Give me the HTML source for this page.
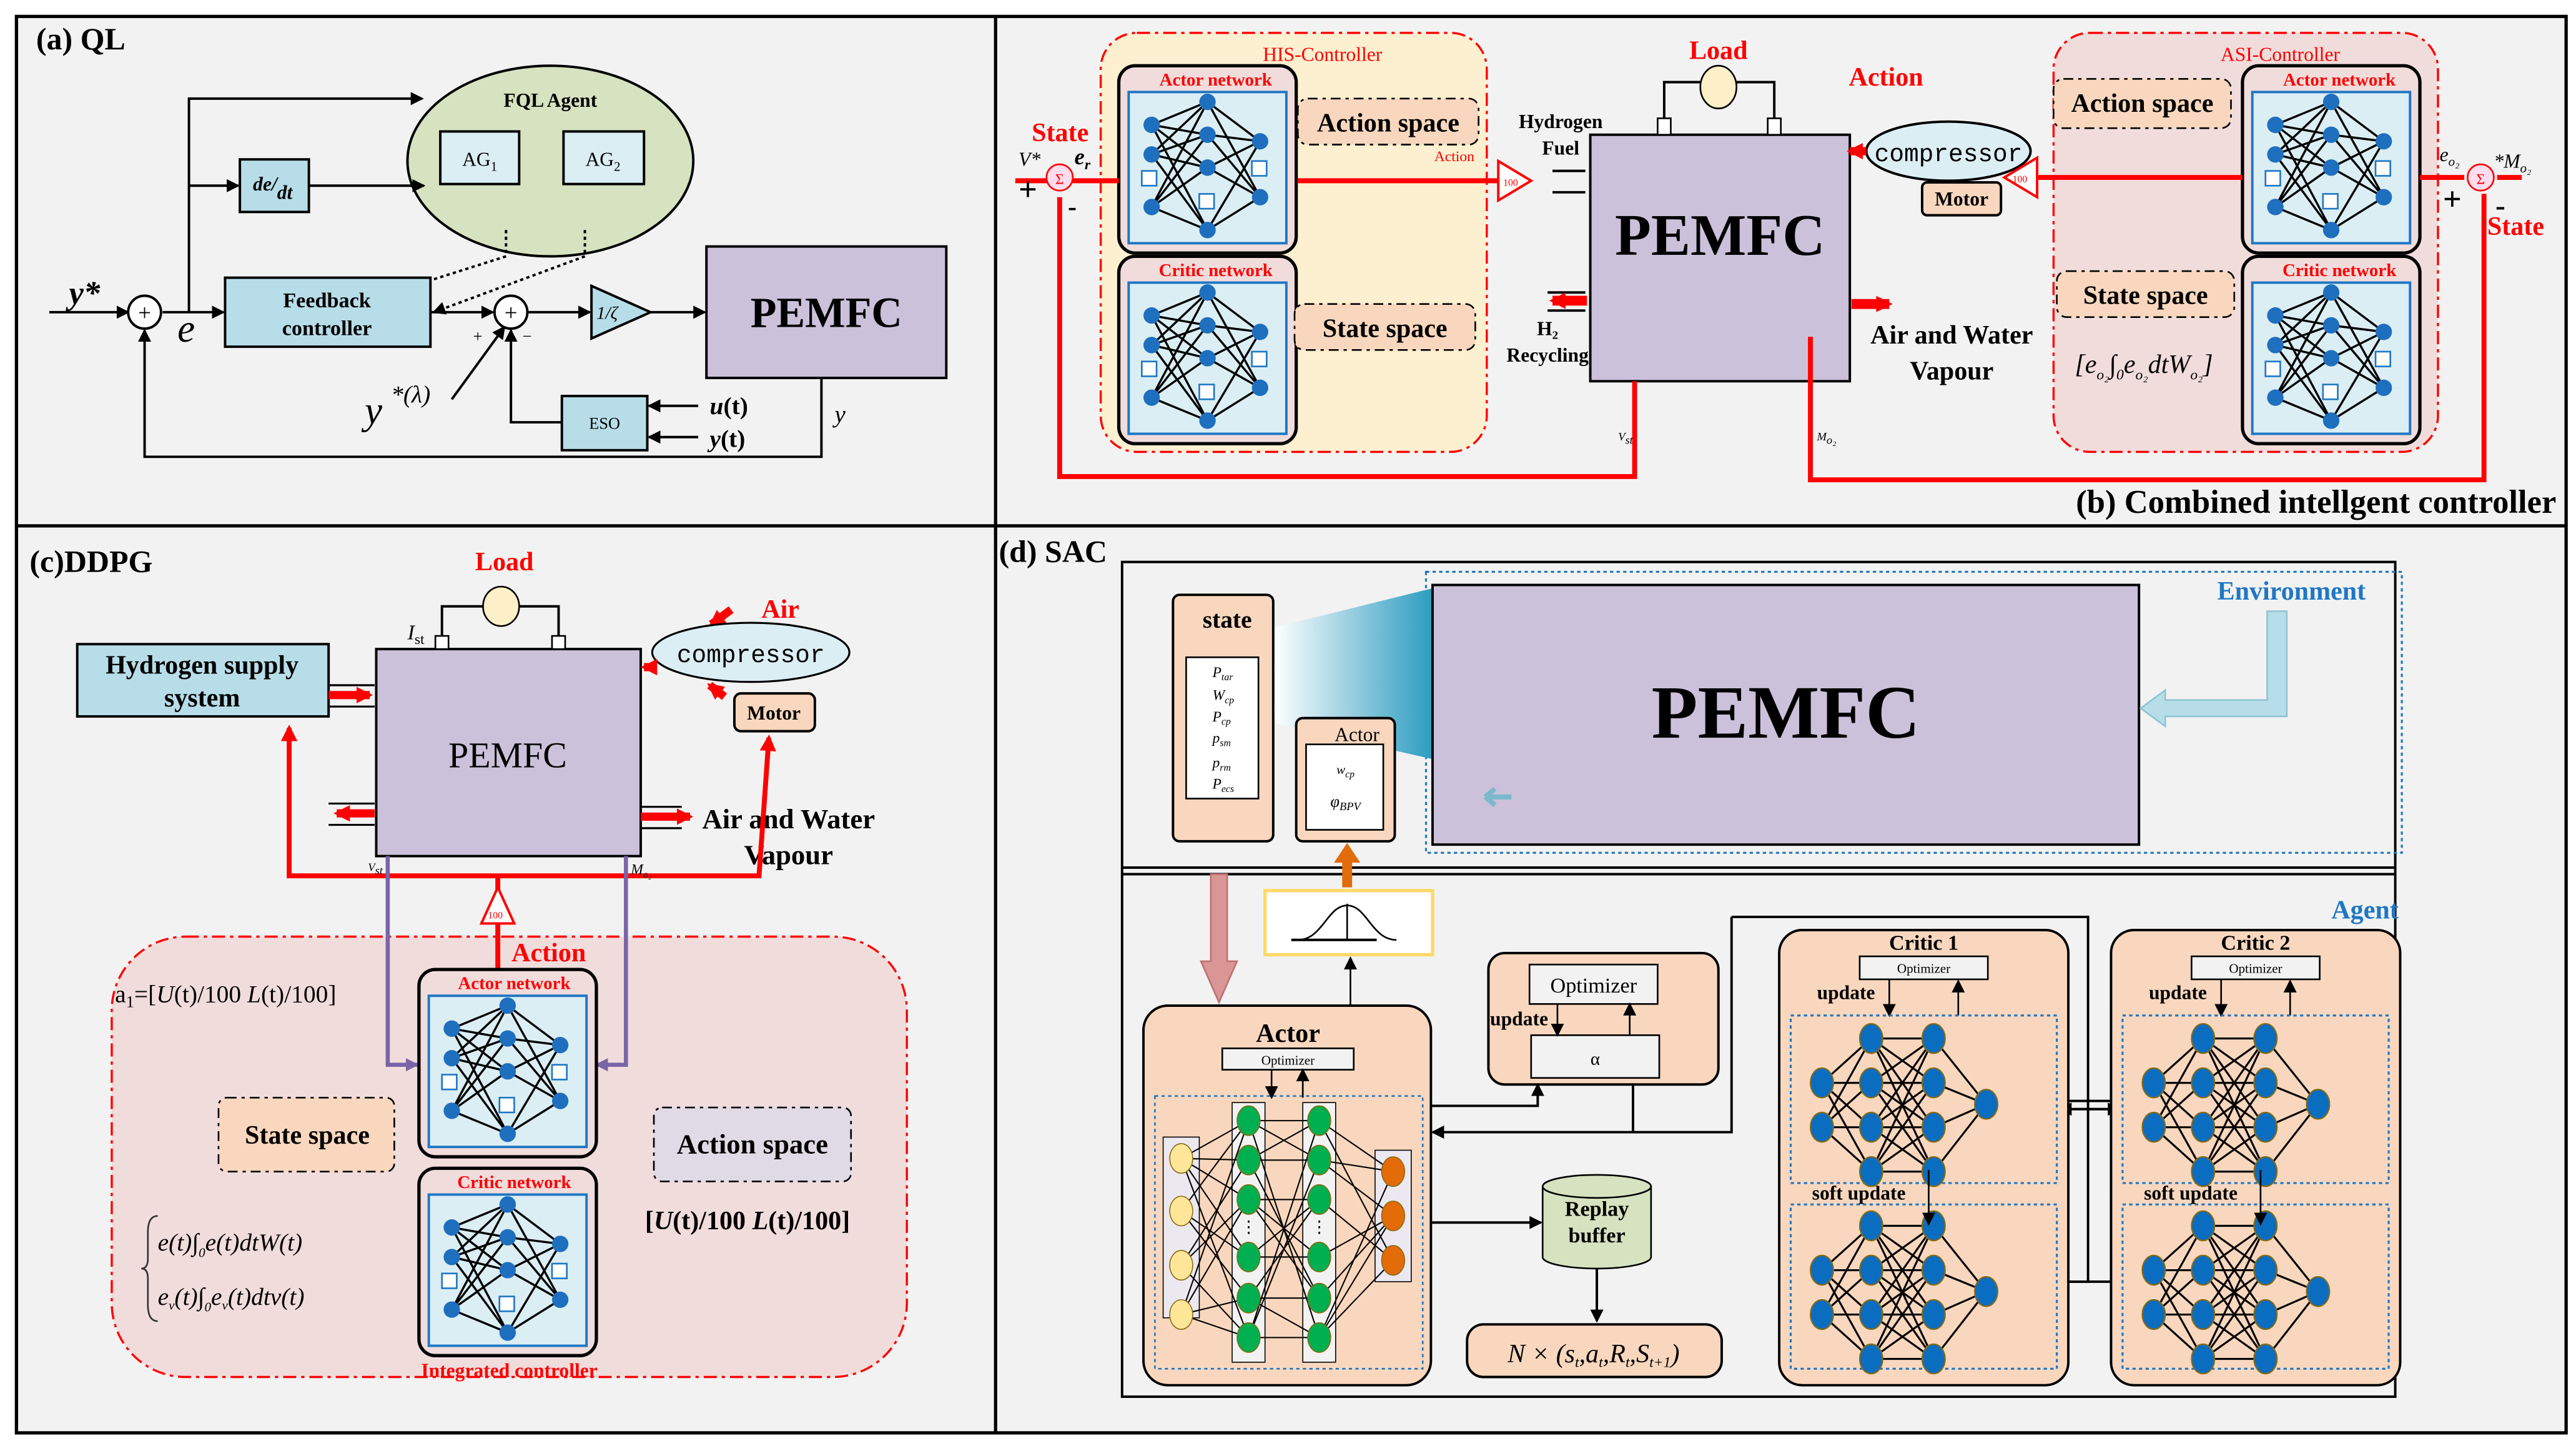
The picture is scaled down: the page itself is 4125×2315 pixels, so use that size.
<!DOCTYPE html>
<html><head><meta charset="utf-8"><style>
html,body{margin:0;padding:0;background:#fff}
svg{display:block}
text{font-family:"Liberation Serif",serif}
</style></head><body>
<svg width="4125" height="2315" viewBox="0 0 1568 880" xmlns="http://www.w3.org/2000/svg">
<defs>
<marker id="ab" markerWidth="8" markerHeight="8" refX="7" refY="4" orient="auto" markerUnits="userSpaceOnUse"><path d="M0,0 L8,4 L0,8z" fill="#000"/></marker>
<marker id="ar" markerWidth="10" markerHeight="10" refX="8" refY="5" orient="auto" markerUnits="userSpaceOnUse"><path d="M0,0 L10,5 L0,10z" fill="#f00"/></marker>
<marker id="ap" markerWidth="8" markerHeight="8" refX="7" refY="4" orient="auto" markerUnits="userSpaceOnUse"><path d="M0,0 L8,4 L0,8z" fill="#7a64a8"/></marker>
<g id="net">
<rect x="0" y="0" width="108" height="114" rx="10" fill="#f1dcdc" stroke="#000" stroke-width="2"/>
<rect x="6" y="16" width="96" height="92" fill="#dbeef4" stroke="#1f77c4" stroke-width="1.5"/>
<g stroke="#000" stroke-width="1.3" fill="none">
<path d="M20,36 L54,22 M20,36 L54,42 M20,36 L54,62 M20,36 L54,100 M20,54 L54,22 M20,54 L54,42 M20,54 L54,62 M20,54 L54,100 M20,86 L54,22 M20,86 L54,42 M20,86 L54,62 M20,86 L54,100 M54,22 L86,46 M54,22 L86,80 M54,42 L86,46 M54,42 L86,80 M54,62 L86,46 M54,62 L86,80 M54,100 L86,46 M54,100 L86,80"/>
</g>
<g fill="#1f6fbf"><circle cx="20" cy="36" r="5"/><circle cx="20" cy="54" r="5"/><circle cx="20" cy="86" r="5"/><circle cx="54" cy="22" r="5"/><circle cx="54" cy="42" r="5"/><circle cx="54" cy="62" r="5"/><circle cx="54" cy="100" r="5"/><circle cx="86" cy="46" r="5"/><circle cx="86" cy="80" r="5"/></g>
<g fill="#fff" stroke="#1f77c4"><rect x="14" y="64" width="9" height="9"/><rect x="49" y="78" width="9" height="9"/><rect x="81" y="58" width="9" height="9"/></g>
</g>
<g id="cn">
<g stroke="#000" stroke-width="1.2" fill="none">
<path d="M12,35 L42,8 M12,35 L42,35 M12,35 L42,62 M12,35 L42,89 M12,62 L42,8 M12,62 L42,35 M12,62 L42,62 M12,62 L42,89 M42,8 L80,8 M42,8 L80,35 M42,8 L80,62 M42,8 L80,89 M42,35 L80,8 M42,35 L80,35 M42,35 L80,62 M42,35 L80,89 M42,62 L80,8 M42,62 L80,35 M42,62 L80,62 M42,62 L80,89 M42,89 L80,8 M42,89 L80,35 M42,89 L80,62 M42,89 L80,89 M80,8 L112,48 M80,35 L112,48 M80,62 L112,48 M80,89 L112,48"/>
</g>
<g fill="#0b6dbf" stroke="#8a6a10" stroke-width="0.8">
<ellipse cx="12" cy="35" rx="7" ry="9"/><ellipse cx="12" cy="62" rx="7" ry="9"/>
<ellipse cx="42" cy="8" rx="7" ry="9"/><ellipse cx="42" cy="35" rx="7" ry="9"/><ellipse cx="42" cy="62" rx="7" ry="9"/><ellipse cx="42" cy="89" rx="7" ry="9"/>
<ellipse cx="80" cy="8" rx="7" ry="9"/><ellipse cx="80" cy="35" rx="7" ry="9"/><ellipse cx="80" cy="62" rx="7" ry="9"/><ellipse cx="80" cy="89" rx="7" ry="9"/>
<ellipse cx="112" cy="48" rx="7" ry="9"/></g>
</g>
<linearGradient id="gr" x1="0" x2="1"><stop offset="0" stop-color="#ffffff"/><stop offset="1" stop-color="#2c9cc0"/></linearGradient>
</defs>

<rect x="0" y="0" width="1568" height="880" fill="#fff"/>
<rect x="10" y="10" width="1552" height="862" fill="#f2f2f2" stroke="#000" stroke-width="2"/>
<line x1="606" y1="10" x2="606" y2="872" stroke="#000" stroke-width="2"/>
<line x1="10" y1="320" x2="1562" y2="320" stroke="#000" stroke-width="2"/>

<!-- (a) QL -->
<text x="22" y="30" font-size="19" font-weight="bold">(a) QL</text>
<ellipse cx="335" cy="98" rx="87" ry="58" fill="#d6e2c0" stroke="#000" stroke-width="1.5"/>
<text x="335" y="65" font-size="12" font-weight="bold" text-anchor="middle">FQL Agent</text>
<rect x="268" y="80" width="48" height="32" fill="#dbeef4" stroke="#000" stroke-width="1.5"/>
<text x="292" y="101" font-size="12" text-anchor="middle">AG<tspan font-size="8" dy="3">1</tspan></text>
<rect x="343" y="80" width="49" height="32" fill="#dbeef4" stroke="#000" stroke-width="1.5"/>
<text x="367" y="101" font-size="12" text-anchor="middle">AG<tspan font-size="8" dy="3">2</tspan></text>
<rect x="146" y="97" width="42" height="32" fill="#b7dde8" stroke="#000" stroke-width="1.5"/>
<text x="166" y="116" font-size="12" font-weight="bold" font-style="italic" text-anchor="middle">de/<tspan dy="5">dt</tspan></text>
<g stroke="#000" stroke-width="1.5" fill="none">
<path d="M115,190 V60 H257" marker-end="url(#ab)"/>
<path d="M115,113 H145" marker-end="url(#ab)"/>
<path d="M188,113 H258" marker-end="url(#ab)"/>
<path d="M30,190 H78" marker-end="url(#ab)"/>
<path d="M99,190 H136" marker-end="url(#ab)"/>
<path d="M262,190 H300" marker-end="url(#ab)"/>
<path d="M321,190 H359" marker-end="url(#ab)"/>
<path d="M396,190 H429" marker-end="url(#ab)"/>
<path d="M500,230 V278 H88 V201" marker-end="url(#ab)"/>
<path d="M342,257 H311 V201" marker-end="url(#ab)"/>
<path d="M275,243 L307,199" marker-end="url(#ab)"/>
<path d="M425,247 H395" marker-end="url(#ab)"/>
<path d="M425,266 H395" marker-end="url(#ab)"/>
<path d="M308,140 V156 L245,176" stroke-dasharray="2,2" marker-end="url(#ab)"/>
<path d="M356,140 V156 L264,190" stroke-dasharray="2,2" marker-end="url(#ab)"/>
</g>
<text x="42" y="185" font-size="20" font-style="italic" font-weight="bold">y*</text>
<circle cx="88" cy="190" r="10" fill="#fff" stroke="#000" stroke-width="1.5"/><text x="88" y="195" font-size="14" text-anchor="middle">+</text>
<text x="108" y="208" font-size="24" font-style="italic">e</text>
<rect x="137" y="169" width="125" height="42" fill="#b7dde8" stroke="#000" stroke-width="1.5"/>
<text x="199" y="187" font-size="13" font-weight="bold" text-anchor="middle">Feedback</text>
<text x="199" y="204" font-size="13" font-weight="bold" text-anchor="middle">controller</text>
<circle cx="311" cy="190" r="10" fill="#fff" stroke="#000" stroke-width="1.5"/><text x="311" y="195" font-size="14" text-anchor="middle">+</text>
<text x="288" y="208" font-size="10">+</text><text x="318" y="208" font-size="10">−</text>
<path d="M360,174 L396,190 L360,206z" fill="#b7dde8" stroke="#000" stroke-width="1.5"/>
<text x="363" y="194" font-size="11" font-style="italic">1/ζ</text>
<rect x="430" y="150" width="146" height="80" fill="#cbc1da" stroke="#000" stroke-width="1.5"/>
<text x="503" y="199" font-size="26" font-weight="bold" text-anchor="middle">PEMFC</text>
<text x="222" y="258" font-size="24" font-style="italic">y</text><text x="238" y="245" font-size="15" font-style="italic">*(λ)</text>
<rect x="342" y="241" width="52" height="33" fill="#b7dde8" stroke="#000" stroke-width="1.5"/>
<text x="368" y="261" font-size="10" text-anchor="middle">ESO</text>
<text x="432" y="252" font-size="15" font-weight="bold"><tspan font-style="italic">u</tspan>(t)</text>
<text x="432" y="272" font-size="15" font-weight="bold"><tspan font-style="italic">y</tspan>(t)</text>
<text x="508" y="257" font-size="15" font-style="italic">y</text>

<!-- (b) -->
<rect x="670" y="20" width="235" height="255" rx="22" fill="#fdf0d0" stroke="#f00" stroke-width="1.3" stroke-dasharray="8,3,2,3"/>
<text x="805" y="37" font-size="12" fill="#f00" text-anchor="middle">HIS-Controller</text>
<use href="#net" x="681" y="40"/>
<text x="740" y="52" font-size="11" font-weight="bold" fill="#f00" text-anchor="middle">Actor network</text>
<use href="#net" x="681" y="156"/>
<text x="740" y="168" font-size="11" font-weight="bold" fill="#f00" text-anchor="middle">Critic network</text>
<rect x="790" y="60" width="110" height="28" rx="6" fill="#f8d7be" stroke="#000" stroke-dasharray="6,3,2,3"/>
<text x="845" y="80" font-size="16" font-weight="bold" text-anchor="middle">Action space</text>
<rect x="788" y="185" width="110" height="28" rx="6" fill="#f8d7be" stroke="#000" stroke-dasharray="6,3,2,3"/>
<text x="843" y="205" font-size="16" font-weight="bold" text-anchor="middle">State space</text>
<text x="873" y="98" font-size="9" fill="#f00">Action</text>
<rect x="1250" y="20" width="234" height="255" rx="22" fill="#f1dcdc" stroke="#f00" stroke-width="1.3" stroke-dasharray="8,3,2,3"/>
<text x="1388" y="37" font-size="12" fill="#f00" text-anchor="middle">ASI-Controller</text>
<use href="#net" x="1365" y="40"/>
<text x="1424" y="52" font-size="11" font-weight="bold" fill="#f00" text-anchor="middle">Actor network</text>
<use href="#net" x="1365" y="156"/>
<text x="1424" y="168" font-size="11" font-weight="bold" fill="#f00" text-anchor="middle">Critic network</text>
<rect x="1250" y="48" width="108" height="30" rx="6" fill="#f8d7be" stroke="#000" stroke-dasharray="6,3,2,3"/>
<text x="1304" y="68" font-size="16" font-weight="bold" text-anchor="middle">Action space</text>
<rect x="1252" y="165" width="108" height="28" rx="6" fill="#f8d7be" stroke="#000" stroke-dasharray="6,3,2,3"/>
<text x="1306" y="185" font-size="16" font-weight="bold" text-anchor="middle">State space</text>
<text x="1305" y="227" font-size="16" font-style="italic" text-anchor="middle">[e<tspan font-size="9" dy="4">o₂</tspan><tspan dy="-4">∫</tspan><tspan font-size="9" dy="4">0</tspan><tspan dy="-4">e</tspan><tspan font-size="9" dy="4">o₂</tspan><tspan dy="-4">dtW</tspan><tspan font-size="9" dy="4">o₂</tspan><tspan dy="-4">]</tspan></text>
<rect x="968" y="82" width="158" height="150" fill="#cbc1da" stroke="#000" stroke-width="1.5"/>
<text x="1047" y="155" font-size="36" font-weight="bold" text-anchor="middle">PEMFC</text>
<path d="M1013,78 V50 H1080 V78" fill="none" stroke="#000" stroke-width="1.5"/>
<rect x="1009" y="72" width="8" height="10" fill="#fff" stroke="#000"/><rect x="1076" y="72" width="8" height="10" fill="#fff" stroke="#000"/>
<ellipse cx="1046" cy="53" rx="11" ry="13" fill="#fdf0c8" stroke="#000"/>
<text x="1046" y="36" font-size="16" font-weight="bold" fill="#f00" text-anchor="middle">Load</text>
<text x="1148" y="52" font-size="16" font-weight="bold" fill="#f00" text-anchor="middle">Action</text>
<text x="950" y="78" font-size="12" font-weight="bold" text-anchor="middle">Hydrogen</text>
<text x="950" y="94" font-size="12" font-weight="bold" text-anchor="middle">Fuel</text>
<path d="M945,104 H965 M945,117 H965" stroke="#000" stroke-width="1.5"/>
<text x="942" y="204" font-size="12" font-weight="bold" text-anchor="middle">H₂</text>
<text x="942" y="220" font-size="12" font-weight="bold" text-anchor="middle">Recycling</text>
<path d="M965,178 H942 M965,189 H942" stroke="#000" stroke-width="1.5"/>
<path d="M966,183 H945" stroke="#f00" stroke-width="6" marker-end="url(#ar)"/>
<path d="M1127,185 H1150" stroke="#f00" stroke-width="6" marker-end="url(#ar)"/>
<text x="1188" y="209" font-size="16" font-weight="bold" text-anchor="middle">Air and Water</text>
<text x="1188" y="231" font-size="16" font-weight="bold" text-anchor="middle">Vapour</text>
<ellipse cx="1186" cy="92" rx="50" ry="18" fill="#dbeef4" stroke="#000" stroke-width="1.5"/>
<text x="1186" y="98" font-size="15" text-anchor="middle" style="font-family:'Liberation Mono',monospace">compressor</text>
<rect x="1170" y="111" width="48" height="20" rx="3" fill="#f8d7be" stroke="#000" stroke-width="1.5"/>
<text x="1194" y="125" font-size="12" font-weight="bold" text-anchor="middle">Motor</text>
<path d="M1136,92 H1126" stroke="#f00" stroke-width="5" marker-end="url(#ar)"/>
<g fill="none" stroke="#f00" stroke-width="3">
<path d="M618,110 H681"/><path d="M790,110 H912"/>
<path d="M1240,108 H1365"/><path d="M1473,108 H1500"/><path d="M1520,108 H1535"/>
<path d="M995,232 V290 H645 V120"/>
<path d="M1102,205 V292 H1512 V118"/>
</g>
<path d="M912,98 L932,110 L912,122z" fill="#fff" stroke="#f00" stroke-width="1.5"/><text x="915" y="113" font-size="6" fill="#f00">100</text>
<path d="M1240,96 L1220,108 L1240,120z" fill="#fff" stroke="#f00" stroke-width="1.5"/><text x="1225" y="111" font-size="6" fill="#f00">100</text>
<circle cx="645" cy="108" r="8" fill="#fde" stroke="#f00"/><text x="645" y="112" font-size="9" fill="#f00" text-anchor="middle">Σ</text>
<circle cx="1510" cy="108" r="8" fill="#fde" stroke="#f00"/><text x="1510" y="112" font-size="9" fill="#f00" text-anchor="middle">Σ</text>
<text x="628" y="86" font-size="16" font-weight="bold" fill="#f00">State</text>
<text x="620" y="101" font-size="12" font-style="italic">V*</text>
<text x="654" y="100" font-size="14" font-weight="bold" font-style="italic">e<tspan font-size="9" dy="3">r</tspan></text>
<text x="620" y="122" font-size="20" font-weight="bold">+</text><text x="650" y="131" font-size="16" font-weight="bold">-</text>
<text x="1514" y="143" font-size="16" font-weight="bold" fill="#f00">State</text>
<text x="1485" y="98" font-size="12" font-style="italic">e<tspan font-size="8" dy="3">o₂</tspan></text>
<text x="1518" y="102" font-size="12" font-style="italic">*M<tspan font-size="8" dy="3">o₂</tspan></text>
<text x="1487" y="128" font-size="20" font-weight="bold">+</text><text x="1519" y="131" font-size="18" font-weight="bold">-</text>
<text x="985" y="268" font-size="7" font-style="italic">V<tspan dy="2">st</tspan></text>
<text x="1106" y="268" font-size="7" font-style="italic">M<tspan dy="2">o₂</tspan></text>
<text x="1556" y="312" font-size="20" font-weight="bold" text-anchor="end">(b) Combined intellgent controller</text>

<!-- (c) DDPG -->
<text x="18" y="348" font-size="19" font-weight="bold">(c)DDPG</text>
<rect x="68" y="570" width="484" height="268" rx="45" fill="#f1dcdc" stroke="#f00" stroke-width="1.3" stroke-dasharray="8,3,2,3"/>
<rect x="47" y="392" width="153" height="44" fill="#b7dde8" stroke="#000" stroke-width="1.5"/>
<text x="123" y="410" font-size="16" font-weight="bold" text-anchor="middle">Hydrogen supply</text>
<text x="123" y="430" font-size="16" font-weight="bold" text-anchor="middle">system</text>
<rect x="229" y="395" width="161" height="126" fill="#cbc1da" stroke="#000" stroke-width="1.5"/>
<text x="309" y="467" font-size="22" text-anchor="middle">PEMFC</text>
<path d="M269,394 V369 H340 V394" fill="none" stroke="#000" stroke-width="1.5"/>
<rect x="265" y="387" width="8" height="8" fill="#fff" stroke="#000"/><rect x="336" y="387" width="8" height="8" fill="#fff" stroke="#000"/>
<ellipse cx="305" cy="369" rx="11" ry="12" fill="#fdf0c8" stroke="#000"/>
<text x="307" y="347" font-size="16" font-weight="bold" fill="#f00" text-anchor="middle">Load</text>
<text x="248" y="389" font-size="13" font-style="italic">I<tspan font-style="normal" font-size="9" dy="3">st</tspan></text>
<text x="475" y="376" font-size="16" font-weight="bold" fill="#f00" text-anchor="middle">Air</text>
<path d="M445,371 L433,380" stroke="#f00" stroke-width="5" marker-end="url(#ar)"/>
<ellipse cx="457" cy="397" rx="60" ry="18" fill="#dbeef4" stroke="#000" stroke-width="1.2"/>
<text x="457" y="403" font-size="15" text-anchor="middle" style="font-family:'Liberation Mono',monospace">compressor</text>
<rect x="447" y="422" width="49" height="23" rx="4" fill="#f8d7be" stroke="#000" stroke-width="1.5"/>
<text x="471" y="438" font-size="12" font-weight="bold" text-anchor="middle">Motor</text>
<path d="M441,424 L432,417" stroke="#f00" stroke-width="5" marker-end="url(#ar)"/>
<path d="M398,406 H392" stroke="#f00" stroke-width="5" marker-end="url(#ar)"/>
<path d="M200,417 H228 M200,430 H228" stroke="#000" stroke-width="1.2"/>
<path d="M200,423 H225" stroke="#f00" stroke-width="5" marker-end="url(#ar)"/>
<path d="M228,489 H200 M228,502 H200" stroke="#000" stroke-width="1.2"/>
<path d="M228,495 H205" stroke="#f00" stroke-width="5" marker-end="url(#ar)"/>
<path d="M390,491 H415 M390,504 H415" stroke="#000" stroke-width="1.2"/>
<path d="M390,497 H420" stroke="#f00" stroke-width="5" marker-end="url(#ar)"/>
<text x="480" y="504" font-size="17" font-weight="bold" text-anchor="middle">Air and Water</text>
<text x="480" y="526" font-size="17" font-weight="bold" text-anchor="middle">Vapour</text>
<g fill="none" stroke="#f00" stroke-width="3">
<path d="M303,533 H176 V443" marker-end="url(#ar)"/>
<path d="M303,533 H462 L468,449" marker-end="url(#ar)"/>
<path d="M303,533 V590"/>
</g>
<path d="M303,540 L293,562 L313,562z" fill="#fff" stroke="#f00" stroke-width="1.5"/><text x="297" y="559" font-size="6" fill="#f00">100</text>
<g fill="none" stroke="#7a64a8" stroke-width="2.5">
<path d="M236,521 V648 H254" marker-end="url(#ap)"/>
<path d="M381,521 V648 H363" marker-end="url(#ap)"/>
</g>
<text x="224" y="530" font-size="7" font-style="italic">V<tspan dy="2">st</tspan></text>
<text x="384" y="532" font-size="9" font-style="italic">M<tspan dy="2" font-size="6">o₂</tspan></text>
<text x="334" y="585" font-size="16" font-weight="bold" fill="#f00" text-anchor="middle">Action</text>
<use href="#net" x="255" y="590"/>
<text x="313" y="602" font-size="11" font-weight="bold" fill="#f00" text-anchor="middle">Actor network</text>
<use href="#net" x="255" y="711"/>
<text x="313" y="723" font-size="11" font-weight="bold" fill="#f00" text-anchor="middle">Critic network</text>
<text x="310" y="838" font-size="12" font-weight="bold" fill="#f00" text-anchor="middle">Integrated controller</text>
<text x="70" y="610" font-size="15">a<tspan font-size="10" dy="3">1</tspan><tspan dy="-3">=[</tspan><tspan font-style="italic">U</tspan>(t)/100  <tspan font-style="italic">L</tspan>(t)/100]</text>
<rect x="133" y="668" width="107" height="45" rx="5" fill="#f8d7be" stroke="#000" stroke-dasharray="6,3,2,3"/>
<text x="187" y="696" font-size="16" font-weight="bold" text-anchor="middle">State space</text>
<rect x="398" y="674" width="120" height="45" rx="5" fill="#e0dae6" stroke="#000" stroke-dasharray="6,3,2,3"/>
<text x="458" y="702" font-size="17" font-weight="bold" text-anchor="middle">Action space</text>
<text x="455" y="748" font-size="16" font-weight="bold" text-anchor="middle">[<tspan font-style="italic">U</tspan>(t)/100  <tspan font-style="italic">L</tspan>(t)/100]</text>
<path d="M96,740 Q90,740 90,750 V766 Q90,772 86,772 Q90,772 90,778 V794 Q90,804 96,804" fill="none" stroke="#333"/>
<text x="96" y="761" font-size="15" font-style="italic">e(t)∫<tspan font-size="8" dy="4">0</tspan><tspan dy="-4">e(t)dtW(t)</tspan></text>
<text x="96" y="794" font-size="15" font-style="italic">e<tspan font-size="8" dy="3">v</tspan><tspan dy="-3">(t)∫</tspan><tspan font-size="8" dy="4">0</tspan><tspan dy="-4">e</tspan><tspan font-size="8" dy="3">v</tspan><tspan dy="-3">(t)dtv(t)</tspan></text>

<!-- (d) SAC -->
<text x="608" y="342" font-size="19" font-weight="bold">(d) SAC</text>
<rect x="683" y="342" width="775" height="508" fill="#f2f2f2" stroke="#000" stroke-width="1.5"/>
<line x1="683" y1="528" x2="1458" y2="528" stroke="#000" stroke-width="1.5"/>
<line x1="683" y1="532" x2="1458" y2="532" stroke="#000" stroke-width="1.5"/>
<rect x="868" y="348" width="594" height="171" fill="none" stroke="#1f77c4" stroke-width="1.2" stroke-dasharray="2,2"/>
<path d="M775,382 L872,358 L872,462 L775,440z" fill="url(#gr)"/>
<rect x="872" y="356" width="430" height="158" fill="#cbc1da" stroke="#000" stroke-width="1.5"/>
<text x="1087" y="449" font-size="46" font-weight="bold" text-anchor="middle">PEMFC</text>
<text x="1440" y="365" font-size="16" font-weight="bold" fill="#1f77c4" text-anchor="end">Environment</text>
<path d="M1380,372 H1392 V436 H1318 V442 L1303,431 L1318,420 V426 H1380z" fill="#b7dde8" stroke="#8fc4d4"/>
<path d="M920,485 H904 M904,485 L910,480 M904,485 L910,490" stroke="#7ab8cc" stroke-width="3" fill="none"/>
<rect x="714" y="362" width="61" height="150" rx="4" fill="#f8d7be" stroke="#000" stroke-width="1.5"/>
<text x="747" y="382" font-size="15" font-weight="bold" text-anchor="middle">state</text>
<rect x="722" y="400" width="44" height="86" fill="#fff" stroke="#000"/>
<g font-size="9" font-style="italic"><text x="738" y="412">P<tspan font-size="6" dy="2">tar</tspan></text><text x="738" y="426">W<tspan font-size="6" dy="2">cp</tspan></text><text x="738" y="439">P<tspan font-size="6" dy="2">cp</tspan></text><text x="738" y="452">p<tspan font-size="6" dy="2">sm</tspan></text><text x="738" y="467">p<tspan font-size="6" dy="2">rm</tspan></text><text x="738" y="480">P<tspan font-size="6" dy="2">ecs</tspan></text></g>
<rect x="789" y="437" width="60" height="75" rx="4" fill="#f8d7be" stroke="#000" stroke-width="1.5"/>
<text x="826" y="451" font-size="12" text-anchor="middle">Actor</text>
<rect x="795" y="453" width="47" height="52" fill="#fff" stroke="#000"/>
<text x="819" y="471" font-size="8" font-style="italic" text-anchor="middle">w<tspan font-size="6" dy="2">cp</tspan></text>
<text x="819" y="491" font-size="10" font-style="italic" text-anchor="middle">φ<tspan font-size="7" dy="2">BPV</tspan></text>
<path d="M737,532 V585 H731 L742,610 L753,585 H747 V532z" fill="#d99694" stroke="#c07070"/>
<path d="M817,540 V525 H812 L820,513 L828,525 H823 V540z" fill="#e26b0a"/>
<rect x="770" y="542" width="102" height="39" fill="#fff" stroke="#ffd966" stroke-width="2"/>
<path d="M786,572 H838" stroke="#000" stroke-width="1.5"/>
<path d="M790,572 C805,572 808,551 820,551 C832,551 835,572 850,572" fill="none" stroke="#000"/>
<line x1="820" y1="550" x2="820" y2="572" stroke="#000"/>
<rect x="696" y="612" width="175" height="231" rx="15" fill="#f8d7be" stroke="#000" stroke-width="1.5"/>
<text x="784" y="634" font-size="16" font-weight="bold" text-anchor="middle">Actor</text>
<rect x="744" y="638" width="80" height="13" fill="#f2f2f2" stroke="#000"/><text x="784" y="648" font-size="8" text-anchor="middle">Optimizer</text>
<rect x="703" y="667" width="163" height="166" fill="none" stroke="#1f77c4" stroke-dasharray="2,2"/>
<path d="M822,612 V583" stroke="#000" marker-end="url(#ab)"/>
<path d="M774,651 V668" stroke="#000" marker-end="url(#ab)"/>
<path d="M793,668 V651" stroke="#000" marker-end="url(#ab)"/>
<rect x="708" y="692" width="22" height="110" fill="#ece8f0" stroke="#000" stroke-width="0.6"/>
<rect x="750" y="671" width="20" height="158" fill="#f2f2f2" stroke="#000" stroke-width="0.6"/>
<rect x="793" y="671" width="20" height="158" fill="#f2f2f2" stroke="#000" stroke-width="0.6"/>
<rect x="837" y="700" width="22" height="80" fill="#ece8f0" stroke="#000" stroke-width="0.6"/>
<g stroke="#000" stroke-width="0.8" fill="none">
<path d="M719,705 L760,682 L803,682 L848,713 M719,705 L760,706 L803,706 L848,740 M719,705 L760,730 L803,730 L848,767 M719,705 L760,765 L803,765 M719,737 L760,682 L803,706 L848,713 M719,737 L760,790 L803,790 L848,740 M719,770 L760,706 L803,682 L848,767 M719,770 L760,814 L803,814 L848,713 M719,800 L760,730 L803,765 L848,740 M719,800 L760,790 L803,814 L848,767 M719,737 L760,765 L803,730 M719,770 L760,730 L803,790 M719,800 L760,814 L803,682 M760,682 L803,814 M760,814 L803,706 M760,706 L803,790 M760,790 L803,730 M719,705 L760,814 M719,800 L760,682 M803,682 L848,767 M803,814 L848,740"/>
</g>
<g stroke="#8a6a10" stroke-width="0.6">
<g fill="#ffe699"><ellipse cx="719" cy="705" rx="7" ry="9"/><ellipse cx="719" cy="737" rx="7" ry="9"/><ellipse cx="719" cy="770" rx="7" ry="9"/><ellipse cx="719" cy="800" rx="7" ry="9"/></g>
<g fill="#00b050"><ellipse cx="760" cy="682" rx="7" ry="9"/><ellipse cx="760" cy="706" rx="7" ry="9"/><ellipse cx="760" cy="730" rx="7" ry="9"/><ellipse cx="760" cy="765" rx="7" ry="9"/><ellipse cx="760" cy="790" rx="7" ry="9"/><ellipse cx="760" cy="814" rx="7" ry="9"/>
<ellipse cx="803" cy="682" rx="7" ry="9"/><ellipse cx="803" cy="706" rx="7" ry="9"/><ellipse cx="803" cy="730" rx="7" ry="9"/><ellipse cx="803" cy="765" rx="7" ry="9"/><ellipse cx="803" cy="790" rx="7" ry="9"/><ellipse cx="803" cy="814" rx="7" ry="9"/></g>
<g fill="#e36c09"><ellipse cx="848" cy="713" rx="7" ry="9"/><ellipse cx="848" cy="740" rx="7" ry="9"/><ellipse cx="848" cy="767" rx="7" ry="9"/></g>
</g>
<text x="760" y="750" font-size="10" text-anchor="middle">⋮</text><text x="803" y="750" font-size="10" text-anchor="middle">⋮</text>
<rect x="906" y="580" width="140" height="80" rx="10" fill="#f8d7be" stroke="#000" stroke-width="1.5"/>
<rect x="931" y="587" width="78" height="24" fill="#f2f2f2" stroke="#000"/><text x="970" y="604" font-size="13" text-anchor="middle">Optimizer</text>
<rect x="932" y="630" width="78" height="26" fill="#f2f2f2" stroke="#000"/><text x="971" y="648" font-size="11" text-anchor="middle">α</text>
<text x="907" y="624" font-size="12" font-weight="bold">update</text>
<path d="M948,611 V630" stroke="#000" marker-end="url(#ab)"/>
<path d="M992,630 V611" stroke="#000" marker-end="url(#ab)"/>
<g fill="none" stroke="#000" stroke-width="1.5">
<path d="M871,673 H936 V660" marker-end="url(#ab)"/>
<path d="M1054,558 V689 H872" marker-end="url(#ab)"/>
<path d="M994,660 V689"/>
<path d="M1054,558 H1271 V780 H1252"/>
<path d="M871,744 H938" marker-end="url(#ab)"/>
<path d="M972,770 V804" marker-end="url(#ab)"/>
<path d="M1252,670 H1291 M1252,780 H1291"/>
<path d="M1262,675 H1290" marker-end="url(#ab)"/>
<path d="M1282,675 H1254" marker-end="url(#ab)"/>
</g>
<path d="M939,722 V765 A33,7 0 0 0 1005,765 V722" fill="#d6e2c0" stroke="#000"/>
<ellipse cx="972" cy="722" rx="33" ry="7" fill="#d6e2c0" stroke="#000"/>
<text x="972" y="740" font-size="13" font-weight="bold" text-anchor="middle">Replay</text>
<text x="972" y="756" font-size="13" font-weight="bold" text-anchor="middle">buffer</text>
<rect x="893" y="806" width="155" height="32" rx="10" fill="#f8d7be" stroke="#000" stroke-width="1.5"/>
<text x="970" y="829" font-size="16" font-style="italic" text-anchor="middle">N × (s<tspan font-size="9" dy="3">t</tspan><tspan dy="-3">,a</tspan><tspan font-size="9" dy="3">t</tspan><tspan dy="-3">,R</tspan><tspan font-size="9" dy="3">t</tspan><tspan dy="-3">,S</tspan><tspan font-size="9" dy="3">t+1</tspan><tspan dy="-3">)</tspan></text>
<g>
<rect x="1083" y="566" width="176" height="277" rx="14" fill="#f8d7be" stroke="#000" stroke-width="1.5"/>
<text x="1171" y="578" font-size="13" font-weight="bold" text-anchor="middle">Critic 1</text>
<rect x="1132" y="582" width="78" height="14" fill="#f2f2f2" stroke="#000"/><text x="1171" y="592" font-size="8" text-anchor="middle">Optimizer</text>
<text x="1106" y="608" font-size="12" font-weight="bold">update</text>
<path d="M1150,596 V618" stroke="#000" marker-end="url(#ab)"/><path d="M1192,618 V597" stroke="#000" marker-end="url(#ab)"/>
<rect x="1090" y="618" width="162" height="102" fill="none" stroke="#1f77c4" stroke-dasharray="2,2" stroke-width="1.2"/>
<rect x="1090" y="733" width="162" height="100" fill="none" stroke="#1f77c4" stroke-dasharray="2,2" stroke-width="1.2"/>
<use href="#cn" x="1097" y="624"/><use href="#cn" x="1097" y="738"/>
<text x="1103" y="730" font-size="12" font-weight="bold">soft update</text>
<path d="M1174,712 V745" stroke="#000" marker-end="url(#ab)"/>
</g>
<g>
<rect x="1285" y="566" width="176" height="277" rx="14" fill="#f8d7be" stroke="#000" stroke-width="1.5"/>
<text x="1373" y="578" font-size="13" font-weight="bold" text-anchor="middle">Critic 2</text>
<rect x="1334" y="582" width="78" height="14" fill="#f2f2f2" stroke="#000"/><text x="1373" y="592" font-size="8" text-anchor="middle">Optimizer</text>
<text x="1308" y="608" font-size="12" font-weight="bold">update</text>
<path d="M1352,596 V618" stroke="#000" marker-end="url(#ab)"/><path d="M1394,618 V597" stroke="#000" marker-end="url(#ab)"/>
<rect x="1292" y="618" width="162" height="102" fill="none" stroke="#1f77c4" stroke-dasharray="2,2" stroke-width="1.2"/>
<rect x="1292" y="733" width="162" height="100" fill="none" stroke="#1f77c4" stroke-dasharray="2,2" stroke-width="1.2"/>
<use href="#cn" x="1299" y="624"/><use href="#cn" x="1299" y="738"/>
<text x="1305" y="730" font-size="12" font-weight="bold">soft update</text>
<path d="M1376,712 V745" stroke="#000" marker-end="url(#ab)"/>
</g>
<text x="1460" y="559" font-size="16" font-weight="bold" fill="#1f77c4" text-anchor="end">Agent</text>
</svg>
</body></html>
